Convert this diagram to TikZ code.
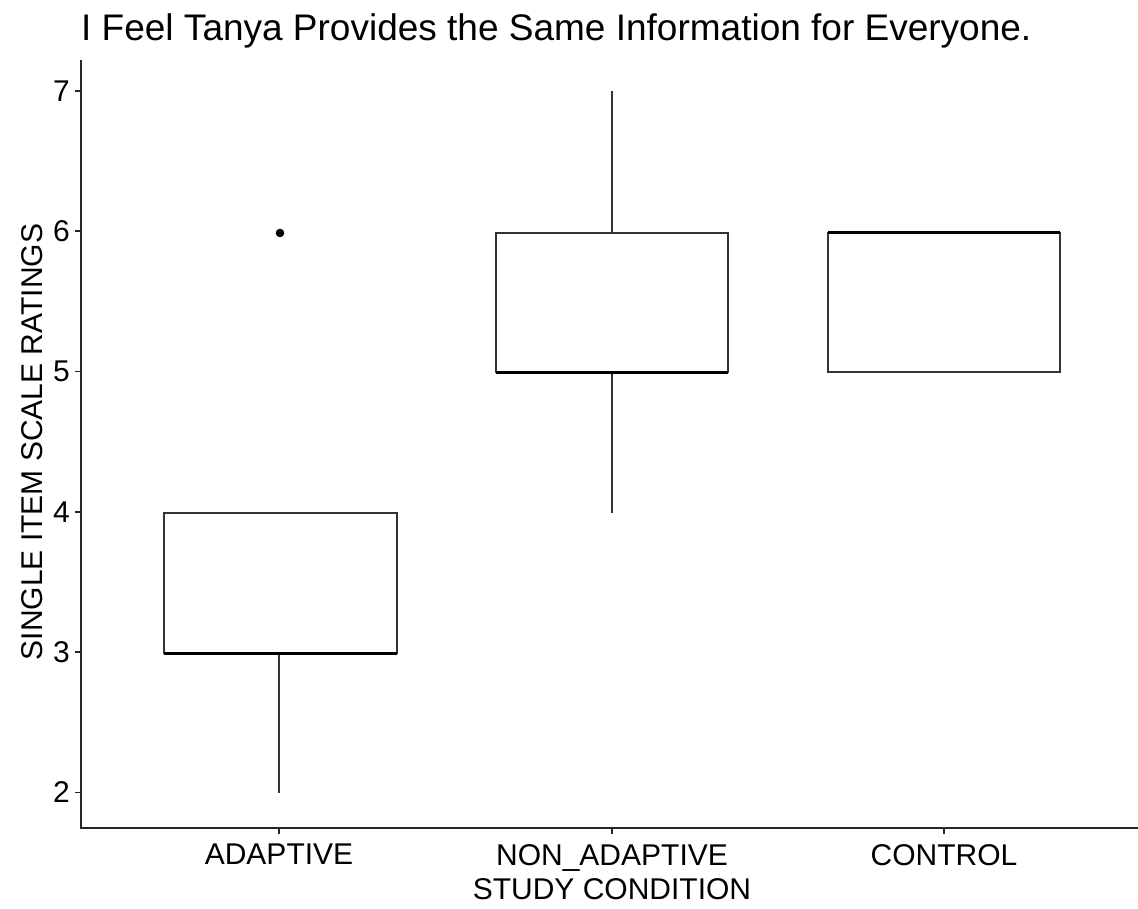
\documentclass[tikz,border=0pt]{standalone}
\usepackage{fontspec}
\setmainfont{Liberation Sans}
\begin{document}
\begin{tikzpicture}[x=1pt,y=-1pt,
  boxline/.style={draw=black!80,line width=1.5pt,fill=white},
  medline/.style={draw=black,line width=3pt},
  whisk/.style={draw=black!80,line width=1.5pt},
  axisline/.style={draw=black!85,line width=1.6pt},
  ticklab/.style={font=\fontsize{30}{30}\selectfont,inner sep=0pt,text=black},
  ]
\useasboundingbox (0,0) rectangle (1138,909);
% axes
\draw[axisline] (81,60) -- (81,828) -- (1138,828);
% y ticks and labels: value v sits at 91 + (7-v)*140.3
\foreach \v in {2,...,7}{
  \pgfmathsetmacro{\yy}{91+(7-\v)*140.3}
  \draw[axisline] (75,\yy) -- (81,\yy);
  \node[ticklab,anchor=east] (yt\v) at (70,\yy) {\v};
}
% x ticks
\foreach \x in {279,612,944}{
  \draw[axisline] (\x,828) -- (\x,834);
}
\node[ticklab,anchor=north] (xa) at (279,844) {ADAPTIVE};
\node[ticklab,anchor=north] (xb) at (612,844) {NON\_ADAPTIVE};
\node[ticklab,anchor=north] (xc) at (944,844) {CONTROL};
% axis titles and title
\node[ticklab,anchor=north] (xt) at (612,878) {STUDY CONDITION};
\node[ticklab,rotate=90] (yt) at (32,442) {SINGLE ITEM SCALE RATINGS};
\node[font=\fontsize{37}{37}\selectfont,inner sep=0pt,anchor=base west] (title) at (81,41) {I Feel Tanya Provides the Same Information for Everyone.};
% ADAPTIVE: whiskers 2..3, box 3..4, median 3, outlier 6
\draw[whisk] (279,653) -- (279,793);
\draw[boxline] (164,513) rectangle (397,653);
\draw[medline] (164,653) -- (397,653);
\fill[black] (280,233) circle (4.3);
% NON_ADAPTIVE: whiskers 4..7, box 5..6, median 5
\draw[whisk] (612,91) -- (612,233);
\draw[whisk] (612,372) -- (612,513);
\draw[boxline] (496,233) rectangle (728,372);
\draw[medline] (496,372) -- (728,372);
% CONTROL: box 5..6, median 6
\draw[boxline] (828,233) rectangle (1060,372);
\draw[medline] (828,233) -- (1060,233);
\end{tikzpicture}
\end{document}
